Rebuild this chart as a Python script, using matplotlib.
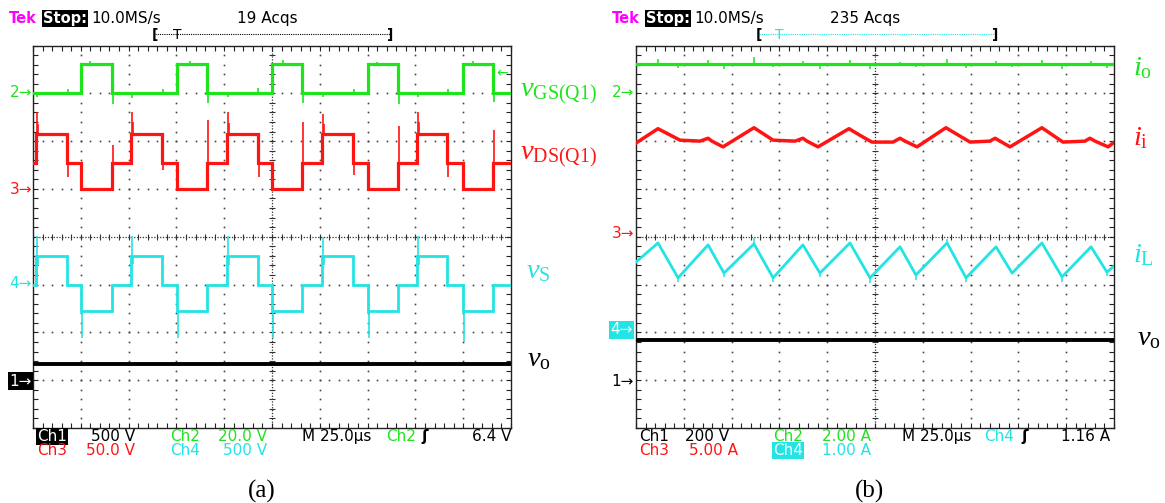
import numpy as np
import matplotlib
matplotlib.use('Agg')
import matplotlib.pyplot as plt

W, H = 1165, 503
plt.rcParams['font.family'] = ['DejaVu Sans']
plt.rcParams['mathtext.fontset'] = 'custom'
plt.rcParams['mathtext.it'] = 'Liberation Serif:italic'
plt.rcParams['mathtext.rm'] = 'Liberation Serif'

GREEN = '#1de41d'
RED = '#ff1414'
CYAN = '#22e4e4'
MAGENTA = '#ff00ff'

# ------------------------------------------------------------------ data (a)
# time in microseconds (25 us/div, 10 div)
gate_t = [0, 25.1, 41.3, 75.3, 91.0, 125.0, 140.7, 175.2, 190.9, 224.9, 240.6, 250]
gate_v = [0, 12.2, 0, 12.2, 0, 12.2, 0, 12.2, 0, 12.2, 0, 0]            # V, Ch2
gate_spk_t = [41.6, 91.3, 141.0, 191.2, 240.9, 18.2, 68.0, 117.9, 167.8, 216.9,
              2.0, 51.6, 101.8, 151.5, 201.1, 30.0, 82.0, 131.0, 180.0, 230.0]
gate_spk_v = [-4.5, -4.2, -4.0, -4.5, -3.8, 2.0, 1.8, 2.2, 1.6, 2.0,
              -1.6, -1.8, -1.5, -1.7, -1.6, 13.6, 13.4, 13.8, 13.2, 13.5]

vds_t = [0, 1.6, 17.8, 25.1, 41.3, 51.3, 67.5, 75.3, 91.0, 101.5, 117.7, 125.0,
         140.7, 151.2, 167.4, 175.2, 190.9, 200.8, 216.5, 224.9, 240.6, 250]
vds_v = [27.5, 57.5, 27.5, 0, 27.5, 57.5, 27.5, 0, 27.5, 57.5, 27.5, 0,
         27.5, 57.5, 27.5, 0, 27.5, 57.5, 27.5, 0, 27.5, 27.5]        # V, Ch3
vds_spk_t = [1.9, 51.6, 101.8, 151.5, 201.1,      # turn-on overshoot
             2.6, 52.3, 102.5, 152.2, 201.8,      # ringing
             18.1, 67.8, 118.0, 167.7, 216.8,     # high -> mid dip
             41.6, 91.3, 141.0, 191.2, 240.9]     # low -> mid overshoot
vds_spk_v = [80, 80, 80, 78, 80,
             68, 70, 69, 68, 70,
             12, 20, 13, 15, 12,
             46, 72, 70, 66, 62]

vs_t = vds_t
vs_v = [0, 300, 0, -275, 0, 300, 0, -275, 0, 300, 0, -275,
        0, 300, 0, -275, 0, 300, 0, -275, 0, 0]                          # V, Ch4
vs_spk_t = [1.9, 51.6, 101.8, 151.5, 201.1,
            25.4, 75.6, 125.3, 175.5, 225.2,
            2.7, 52.4, 102.6, 152.3, 201.9]
vs_spk_v = [510, 510, 510, 500, 510,
            -560, -560, -560, -560, -600,
            200, 210, 200, 205, 200]

vo_a_t = [0, 250]
vo_a_v = [170, 170]                                                      # V, Ch1

# ------------------------------------------------------------------ data (b)
io_t = [0, 250]
io_v = [1.22, 1.22]                                                      # A, Ch2
io_spk_t = [11.5, 22.0, 37.7, 46.0, 61.7, 71.7, 87.3, 96.2, 111.9, 122.4,
            138.1, 146.4, 162.7, 172.6, 188.3, 196.7, 212.3, 222.8, 238.0, 246.3]
io_spk_v = [1.45, 1.06, 1.40, 1.02, 1.50, 1.08, 1.34, 1.02, 1.40, 1.00,
            1.32, 1.10, 1.44, 1.04, 1.34, 1.10, 1.38, 1.02, 1.36, 1.06]

ii_t = [0, 11.5, 23.0, 33.5, 37.7, 39.7, 45.5, 61.7, 71.7, 83.2, 87.3, 89.4, 95.2,
        111.4, 117.2, 123.4, 134.4, 138.1, 140.7, 147.0, 162.1, 174.7, 185.1, 187.8,
        190.4, 195.6, 212.3, 223.3, 234.8, 237.4, 240.1, 246.9, 249.5]
ii_v = [9.8, 11.3, 10.1, 10.0, 10.3, 10.0, 9.4, 11.4, 10.1, 10.0, 10.3, 10.0, 9.4,
        11.3, 10.6, 9.9, 9.9, 10.3, 10.0, 9.4, 11.4, 9.9, 10.0, 10.3,
        10.0, 9.4, 11.4, 9.9, 10.0, 10.3, 10.0, 9.4, 9.8]                # A, Ch3

il_t = [0, 11.5, 22.0, 37.7, 46.0, 61.7, 71.7, 87.3, 96.2, 111.9, 122.4, 138.1,
        146.4, 162.7, 172.6, 188.3, 196.7, 212.3, 222.8, 238.0, 246.3, 249.5]
il_v = [1.47, 1.87, 1.14, 1.83, 1.24, 1.85, 1.14, 1.83, 1.24, 1.87, 1.14, 1.79,
        1.20, 1.87, 1.14, 1.79, 1.24, 1.87, 1.16, 1.79, 1.26, 1.37]      # A, Ch4
il_spk_t = [22.0, 46.0, 61.7, 71.7, 96.2, 122.4, 146.4, 162.7, 172.6, 222.8, 246.3]
il_spk_v = [1.05, 1.16, 1.97, 1.05, 1.16, 1.04, 1.10, 1.95, 1.05, 1.06, 1.18]

vo_b_t = [0, 250]
vo_b_v = [170, 170]                                                      # V, Ch1

# channel settings: (units per division, ground position in divisions)
ch_a = {'ch1': (500, 1.0), 'ch2': (20, 7.0), 'ch3': (50, 5.0), 'ch4': (500, 3.0)}
ch_b = {'ch1': (200, 1.0), 'ch2': (2, 7.0), 'ch3': (5, 4.0), 'ch4': (1, 2.0)}


def to_div(vals, ch):
    scale, gnd = ch
    return gnd + np.asarray(vals, dtype=float) / scale


def level_after(ts, vs, t):
    i = np.searchsorted(ts, t, side='right') - 1
    return vs[max(i, 0)]


def screen(ax):
    ax.set_xlim(0, 250)
    ax.set_ylim(0, 8)
    xs = np.arange(0, 250.01, 5)
    ys = np.arange(0, 8.001, 0.2)
    ax.set_xticks(xs)
    ax.set_yticks(ys)
    ax.tick_params(direction='in', length=3.6, width=0.8, top=True, right=True,
                   labelbottom=False, labelleft=False, color='#222222')
    for s in ax.spines.values():
        s.set_linewidth(1.0)
        s.set_color('#222222')
    for xd in np.arange(25, 250, 25):
        if xd == 125:
            continue
        ax.plot(np.full(len(ys), xd), ys, ls='none', marker='s', ms=1.2,
                mew=0, color='#444444', zorder=1)
    for yd in range(1, 8):
        if yd == 4:
            continue
        ax.plot(xs, np.full(len(xs), float(yd)), ls='none', marker='s', ms=1.2,
                mew=0, color='#444444', zorder=1)
    ax.axhline(4, ls=(0, (1, 1.3)), lw=0.9, color='#333333', zorder=1)
    ax.axvline(125, ls=(0, (1, 1.3)), lw=0.9, color='#333333', zorder=1)
    ax.plot(xs, np.full(len(xs), 4.0), ls='none', marker='|', ms=4.5, mew=0.8,
            color='#333333', zorder=1)
    ax.plot(np.full(len(ys), 125.0), ys, ls='none', marker='_', ms=4.5, mew=0.8,
            color='#333333', zorder=1)


def step_trace(ax, ts, vs, ch, color, lw, spk_t=None, spk_v=None):
    ax.step(ts, to_div(vs, ch), where='post', color=color, lw=lw, zorder=3,
            solid_joinstyle='miter')
    if spk_t is not None:
        base = [level_after(ts, vs, t) for t in spk_t]
        ax.vlines(spk_t, to_div(base, ch), to_div(spk_v, ch), color=color,
                  lw=1.2, zorder=3)


fig = plt.figure(figsize=(W / 100, H / 100), dpi=100)
fig.patch.set_facecolor('white')

top, bot = 45.5, 428.0
axa = fig.add_axes([33 / W, (H - bot) / H, 478 / W, (bot - top) / H])
axb = fig.add_axes([636 / W, (H - bot) / H, 478 / W, (bot - top) / H])
screen(axa)
screen(axb)

# panel (a) traces
step_trace(axa, gate_t, gate_v, ch_a['ch2'], GREEN, 2.3, gate_spk_t, gate_spk_v)
step_trace(axa, vds_t, vds_v, ch_a['ch3'], RED, 2.3, vds_spk_t, vds_spk_v)
step_trace(axa, vs_t, vs_v, ch_a['ch4'], CYAN, 2.0, vs_spk_t, vs_spk_v)
axa.plot(vo_a_t, to_div(vo_a_v, ch_a['ch1']), color='black', lw=2.8, zorder=3)

# panel (b) traces
axb.plot(io_t, to_div(io_v, ch_b['ch2']), color=GREEN, lw=2.3, zorder=3)
axb.vlines(io_spk_t, to_div([io_v[0]] * len(io_spk_t), ch_b['ch2']),
           to_div(io_spk_v, ch_b['ch2']), color=GREEN, lw=1.1, zorder=3)
axb.plot(ii_t, to_div(ii_v, ch_b['ch3']), color=RED, lw=2.5, zorder=3)
axb.plot(il_t, to_div(il_v, ch_b['ch4']), color=CYAN, lw=2.0, zorder=3)
il_base = np.interp(il_spk_t, il_t, il_v)
axb.vlines(il_spk_t, to_div(il_base, ch_b['ch4']), to_div(il_spk_v, ch_b['ch4']),
           color=CYAN, lw=1.1, zorder=3)
axb.plot(vo_b_t, to_div(vo_b_v, ch_b['ch1']), color='black', lw=2.8, zorder=3)

# ------------------------------------------------------------------ overlay texts
ov = fig.add_axes([0, 0, 1, 1], zorder=5)
ov.set_xlim(0, W)
ov.set_ylim(H, 0)
ov.axis('off')

FS = 11


def t(x, y, s, color='black', ha='left', box=None, fs=FS, **kw):
    bb = None
    if box is not None:
        bb = dict(boxstyle='square,pad=0.08', fc=box, ec='none')
    ov.text(x, y, s, color=color, ha=ha, va='center', fontsize=fs, bbox=bb, **kw)


for off, acq, tcol in [(0, '19 Acqs', 'black'), (603, '235 Acqs', CYAN)]:
    t(9 + off, 18.5, 'Tek', MAGENTA, weight='bold', fs=10.5)
    t(43 + off, 18.5, 'Stop:', 'white', box='black', weight='bold', fs=10.5)
    t(91 + off, 18.5, '10.0MS/s')
    t(237 + off if off == 0 else 830, 18.5, acq)

# trigger-position brackets
for (l, r, tx, col) in [(152, 393, 177, 'black'), (756, 998, 779, CYAN)]:
    ov.plot([l + 3, r - 3], [34, 34], ls=(0, (1, 1)), lw=0.8, color=col)
    t(l, 35, '[', 'black', fs=10, weight='bold')
    t(r, 35, ']', 'black', ha='right', fs=10, weight='bold')
    t(tx, 34.5, 'T', col, ha='center', fs=10)

# bottom readouts (a)
r1, r2 = 436.5, 450.5
t(37, r1, 'Ch1', 'white', box='black')
t(135, r1, '500 V', ha='right')
t(170, r1, 'Ch2', GREEN)
t(267, r1, '20.0 V', GREEN, ha='right')
t(302, r1, 'M 25.0µs')
t(386, r1, 'Ch2', GREEN)
t(421, r1, 'ʃ', weight='bold')
t(512, r1, '6.4 V', ha='right')
t(37, r2, 'Ch3', RED)
t(135, r2, '50.0 V', RED, ha='right')
t(170, r2, 'Ch4', CYAN)
t(267, r2, '500 V', CYAN, ha='right')

# bottom readouts (b)
t(639, r1, 'Ch1')
t(729, r1, '200 V', ha='right')
t(773, r1, 'Ch2', GREEN)
t(871, r1, '2.00 A', GREEN, ha='right')
t(902, r1, 'M 25.0µs')
t(984, r1, 'Ch4', CYAN)
t(1021, r1, 'ʃ', weight='bold')
t(1110, r1, '1.16 A', ha='right')
t(639, r2, 'Ch3', RED)
t(738, r2, '5.00 A', RED, ha='right')
t(773, r2, 'Ch4', 'white', box=CYAN)
t(871, r2, '1.00 A', CYAN, ha='right')

# channel ground markers
t(32, 92, '2→', GREEN, ha='right')
t(32, 189, '3→', RED, ha='right')
t(32, 283, '4→', CYAN, ha='right')
t(32, 381, '1→', 'white', ha='right', box='black')
t(634, 92, '2→', GREEN, ha='right')
t(634, 233, '3→', RED, ha='right')
t(633, 330, '4→', 'white', ha='right', box=CYAN)
t(634, 381, '1→', ha='right')
t(502, 73, '←', GREEN, ha='center', fs=10)

# trace names
LFS = 20.5
def lab(x, y, s, color):
    ov.text(x, y, s, color=color, ha='left', va='baseline', fontsize=LFS)

lab(520, 97, r'$v_{\mathrm{GS(Q1)}}$', GREEN)
lab(520, 160, r'$v_{\mathrm{DS(Q1)}}$', RED)
lab(526, 278, r'$v_{\mathrm{S}}$', CYAN)
lab(527, 366, r'$v_{\mathrm{o}}$', 'black')
lab(1133, 75, r'$i_{\mathrm{o}}$', GREEN)
lab(1133, 145, r'$i_{\mathrm{i}}$', RED)
lab(1133, 262, r'$i_{\mathrm{L}}$', CYAN)
lab(1137, 345, r'$v_{\mathrm{o}}$', 'black')

# captions
ov.text(262, 491, '(a)', ha='center', va='center', fontsize=18, family='Liberation Serif')
ov.text(870, 491, '(b)', ha='center', va='center', fontsize=18, family='Liberation Serif')

fig.savefig('out.png', dpi=100, facecolor='white')
